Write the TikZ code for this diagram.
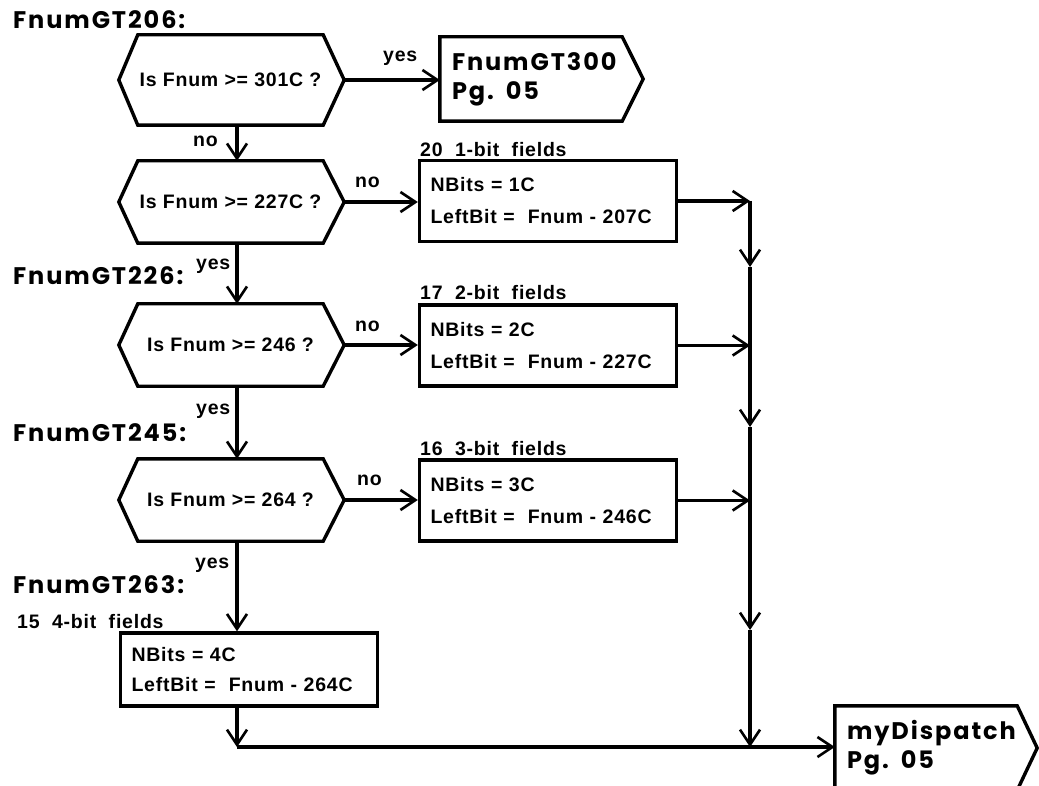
\documentclass[tikz,border=0pt]{standalone}
\usepackage{fontspec}
\setmainfont{Liberation Sans}
\newfontfamily\bigf{Poppins}[LetterSpace=8]
\newfontfamily\smf{Liberation Sans}[LetterSpace=4]
\usetikzlibrary{arrows.meta}
\tikzset{
  ln/.style={line width=3.4pt, line join=miter},
  flow/.style={ln, -{Straight Barb[length=15pt,width=20pt,line width=2.6pt]}},
  smalltxt/.style={font=\smf\bfseries\fontsize{19.5}{20}\selectfont, inner sep=0pt},
  bigtxt/.style={font=\bigf\bfseries\fontsize{24}{29}\selectfont, inner sep=0pt},
  lab/.style={smalltxt, anchor=base west},
  biglab/.style={bigtxt, anchor=base west},
  hexn/.style={smalltxt, minimum width=185pt, minimum height=82pt},
  boxn/.style={smalltxt, draw, ln, minimum height=81pt, inner xsep=11pt, text width=235pt, align=left},
  offn/.style={bigtxt, minimum width=182pt, minimum height=84pt, inner xsep=12pt, text width=158pt, align=left},
}
\newcommand\HexOutline[1]{\draw[ln] (#1.north west) -- (#1.north east) -- (#1r) -- (#1.south east) -- (#1.south west) -- (#1l) -- cycle;}
\newcommand\OffOutline[1]{\draw[ln] (#1.north west) -- (#1.north east) -- (#1p) -- (#1.south east) -- (#1.south west) -- cycle;}
\begin{document}
\begin{tikzpicture}[x=1pt,y=-1pt]
\useasboundingbox (0,0) rectangle (1039,786);
\clip (0,0) rectangle (1039,786);
\fill[white] (0,0) rectangle (1039,786);
\coordinate (vx) at (237,0);
\coordinate (rx) at (750,0);

% big labels
\node[biglab] (L206) at (13,29) {FnumGT206:};
\node[biglab] (L226) at (13,285) {FnumGT226:};
\node[biglab] (L245) at (13,441) {FnumGT245:};
\node[biglab] (L263) at (13,593) {FnumGT263:};

% decisions
\node[hexn, minimum height=90pt] (h1) at (230.5,80) {Is Fnum >=\ 301C ?};
\node[hexn] (h2) at (230.5,202) {Is Fnum >=\ 227C ?};
\node[hexn] (h3) at (230.5,345) {Is Fnum >=\ 246 ?};
\node[hexn] (h4) at (230.5,500) {Is Fnum >=\ 264 ?};
\foreach \h in {h1,h2,h3,h4}{
  \coordinate (\h r) at ([xshift=21pt]\h.east);
  \coordinate (\h l) at ([xshift=-19pt]\h.west);
}
\HexOutline{h1}\HexOutline{h2}\HexOutline{h3}\HexOutline{h4}

% off-page connectors
\node[offn] (n300) at (531,79) {FnumGT300\\Pg. 05};
\coordinate (n300p) at ([xshift=21pt]n300.east);
\OffOutline{n300}
\node[offn] (md) at (926,748) {myDispatch\\Pg. 05};
\coordinate (mdp) at ([xshift=20pt]md.east);
\OffOutline{md}

% process boxes
\node[boxn] (b1) at (548,201) {NBits = 1C\\[12pt]LeftBit =\ \ Fnum - 207C};
\node[boxn] (b2) at (548,345.5) {NBits = 2C\\[12pt]LeftBit =\ \ Fnum - 227C};
\node[boxn] (b3) at (548,500.5) {NBits = 3C\\[12pt]LeftBit =\ \ Fnum - 246C};
\node[boxn, minimum height=73pt] (b4) at (249,669.5) {NBits = 4C\\[10pt]LeftBit =\ \ Fnum - 264C};
\node[lab] (t1) at (420,157) {20\ \ 1-bit\ \ fields};
\node[lab] (t2) at (420,300) {17\ \ 2-bit\ \ fields};
\node[lab] (t3) at (420,455) {16\ \ 3-bit\ \ fields};
\node[lab] (t4) at (17,628) {15\ \ 4-bit\ \ fields};

% branch labels
\node[lab] (y1) at (383,62) {yes};
\node[lab] (n1) at (193,147) {no};
\node[lab] (n2) at (355,188) {no};
\node[lab] (y2) at (196,270) {yes};
\node[lab] (n3) at (355,332) {no};
\node[lab] (y3) at (196,414) {yes};
\node[lab] (n4) at (357,485) {no};
\node[lab] (y4) at (195,568) {yes};

% junction coordinates
\coordinate (j1) at (b1.east -| rx);
\coordinate (j2) at (b2.east -| rx);
\coordinate (j3) at (b3.east -| rx);
\coordinate (m1) at (750,267);
\coordinate (m2) at (750,427);
\coordinate (m3) at (750,630);
\coordinate (c1) at (237,747);
\coordinate (j4) at (750,747);

% connectors
\draw[flow] (h1r) -- (h1r -| n300.west);
\draw[flow] (h1.south -| vx) -- (h2.north -| vx);
\draw[flow] (h2r) -- (h2r -| b1.west);
\draw[flow] (h2.south -| vx) -- (h3.north -| vx);
\draw[flow] (h3r) -- (h3r -| b2.west);
\draw[flow] (h3.south -| vx) -- (h4.north -| vx);
\draw[flow] (h4r) -- (h4r -| b3.west);
\draw[flow] (h4.south -| vx) -- (b4.north -| vx);
\draw[flow] (b4.south -| vx) -- (c1);
\draw[flow] (c1) -- (c1 -| md.west);
\draw[flow] (b1.east) -- (j1);
\draw[flow] (b2.east) -- (j2);
\draw[flow] (b3.east) -- (j3);
\draw[flow] (j1) -- (m1);
\draw[ln] (m1) -- (j2);
\draw[flow] (j2) -- (m2);
\draw[ln] (m2) -- (j3);
\draw[flow] (j3) -- (m3);
\draw[flow] (m3) -- (j4);
\end{tikzpicture}
\end{document}
